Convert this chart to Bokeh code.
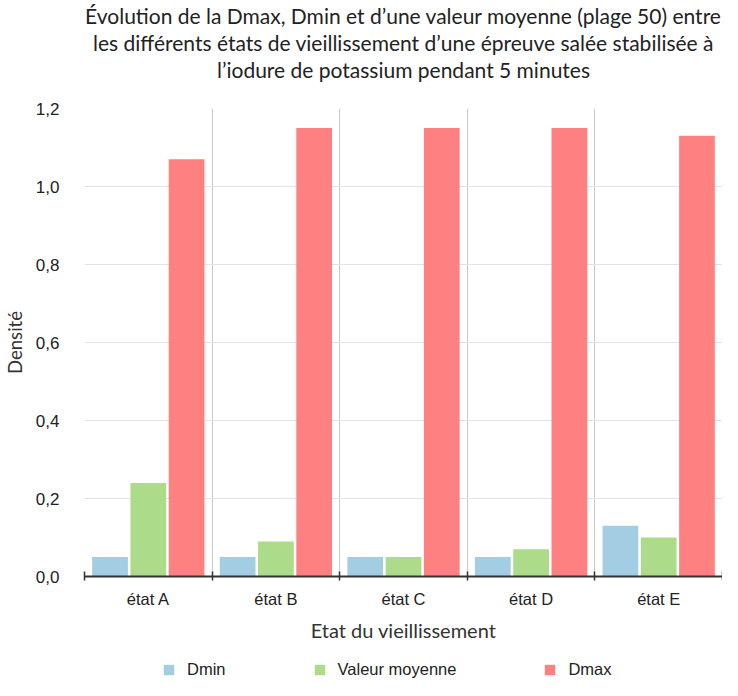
import numpy as np
from bokeh.plotting import figure
from bokeh.layouts import column
from bokeh.models import (ColumnDataSource, Range1d, FixedTicker, Legend, LegendItem,
                          CustomJSTickFormatter, Title, LinearAxis)
from bokeh.transform import dodge
from bokeh.embed import file_html
from bokeh.resources import INLINE

# ---- data ----
categories = ["état A", "état B", "état C", "état D", "état E"]
dmin = [0.05, 0.05, 0.05, 0.05, 0.13]
valeur_moyenne = [0.24, 0.09, 0.05, 0.07, 0.10]
dmax = [1.07, 1.15, 1.15, 1.15, 1.13]
series_names = ["Dmin", "Valeur moyenne", "Dmax"]
y_ticks = [0.0, 0.2, 0.4, 0.6, 0.8, 1.0, 1.2]

title_lines = ["Évolution de la Dmax, Dmin et d’une valeur moyenne (plage 50) entre",
               "les différents états de vieillissement d’une épreuve salée stabilisée à",
               "l’iodure de potassium pendant 5 minutes"]

colors = ["#a3cde3", "#acdb8a", "#ff8080"]
columns = ["dmin", "moy", "dmax"]
offsets = [-0.3, 0.0, 0.3]

n = len(categories)
centers = list(np.arange(n) + 0.5)
bounds = list(np.arange(n + 1).astype(float))

src = ColumnDataSource(dict(x=centers, dmin=dmin, moy=valeur_moyenne, dmax=dmax))

p = figure(width=722, height=644, output_backend="svg", toolbar_location=None,
           title_location=None,
           x_range=Range1d(0, n), y_range=Range1d(0, 1.2),
           min_border_left=80, min_border_right=0, min_border_top=103, min_border_bottom=60,
           background_fill_color="white", border_fill_color="white")
p.outline_line_color = None
xa = p.xaxis[0]
ya = p.yaxis[0]

# invisible axis used only to reserve space between the frame and the title lines
spacer = LinearAxis(ticker=FixedTicker(ticks=[0]), major_tick_out=27, major_tick_in=0,
                    major_label_standoff=0, major_label_text_alpha=0,
                    major_label_text_font_size="1px", axis_line_color=None,
                    major_tick_line_color=None, minor_tick_line_color=None)
p.add_layout(spacer, "above")

title_style = dict(align="center", text_font="Lato", text_font_size="21px",
                   text_font_style="normal", text_color="#222222", standoff=0)
for line in reversed(title_lines):
    p.add_layout(Title(text=line, **title_style), "above")

w = 0.28
for col, off, c in zip(columns, offsets, colors):
    p.vbar(x=dodge("x", off, range=p.x_range), top=col, width=w, source=src,
           fill_color=c, line_color=None)

# x axis
xa.ticker = FixedTicker(ticks=centers, minor_ticks=bounds)
xa.formatter = CustomJSTickFormatter(args=dict(labels=categories),
                                     code="return labels[Math.floor(tick)];")
xa.major_tick_in = 0
xa.major_tick_out = 0
xa.minor_tick_in = 5
xa.minor_tick_out = 4
xa.minor_tick_line_color = "#333333"
xa.minor_tick_line_width = 1.5
xa.axis_line_color = "#333333"
xa.axis_line_width = 2
xa.major_label_text_font = "Liberation Sans"
xa.major_label_text_font_size = "16.5px"
xa.major_label_text_color = "#222222"
xa.major_label_standoff = 9
xa.axis_label = "Etat du vieillissement"
xa.axis_label_text_font = "Lato"
xa.axis_label_text_font_style = "normal"
xa.axis_label_text_font_size = "20px"
xa.axis_label_text_color = "#333333"
xa.axis_label_standoff = 7

# y axis
ya.ticker = FixedTicker(ticks=y_ticks)
ya.formatter = CustomJSTickFormatter(code="return tick.toFixed(1).replace('.', ',');")
ya.axis_line_color = None
ya.major_tick_line_color = None
ya.minor_tick_line_color = None
ya.major_label_text_font = "Liberation Sans"
ya.major_label_text_font_size = "17px"
ya.major_label_text_color = "#222222"
ya.major_label_standoff = 19
ya.axis_label = "Densité"
ya.axis_label_text_font = "Lato"
ya.axis_label_text_font_style = "normal"
ya.axis_label_text_font_size = "18.5px"
ya.axis_label_text_color = "#333333"
ya.axis_label_standoff = 7

# grids
p.xgrid.ticker = FixedTicker(ticks=bounds)
p.xgrid.grid_line_color = "#c8c8c8"
p.xgrid.grid_line_width = 1
p.ygrid.grid_line_color = "#e3e3e3"
p.ygrid.grid_line_width = 1

# ---- legend strip (separate small figure below the chart) ----
# its ranges are set away from the data, so only the legend swatches show
lf = figure(width=722, height=36, output_backend="svg", toolbar_location=None,
            title_location=None, x_axis_location=None, y_axis_location=None,
            x_range=Range1d(100, 101), y_range=Range1d(100, 101),
            min_border_left=0, min_border_right=0, min_border_top=0, min_border_bottom=0,
            background_fill_color="white", border_fill_color="white")
lf.outline_line_color = None
lf.grid.visible = False
swatches = [lf.vbar(x="x", top=col, width=w, source=src, fill_color=c, line_color=None)
            for col, c in zip(columns, colors)]

legend = Legend(items=[LegendItem(label=name, renderers=[r])
                       for name, r in zip(series_names, swatches)],
                orientation="horizontal", location=(78, 1),
                padding=0, margin=0, spacing=87, label_standoff=12,
                glyph_width=13, glyph_height=13, label_height=13,
                label_text_font="Liberation Sans", label_text_font_size="16.5px",
                label_text_color="#222222", border_line_color=None,
                background_fill_alpha=0)
lf.add_layout(legend, "center")

layout = column(p, lf, spacing=0)
open("out.html", "w").write(file_html(layout, INLINE))
